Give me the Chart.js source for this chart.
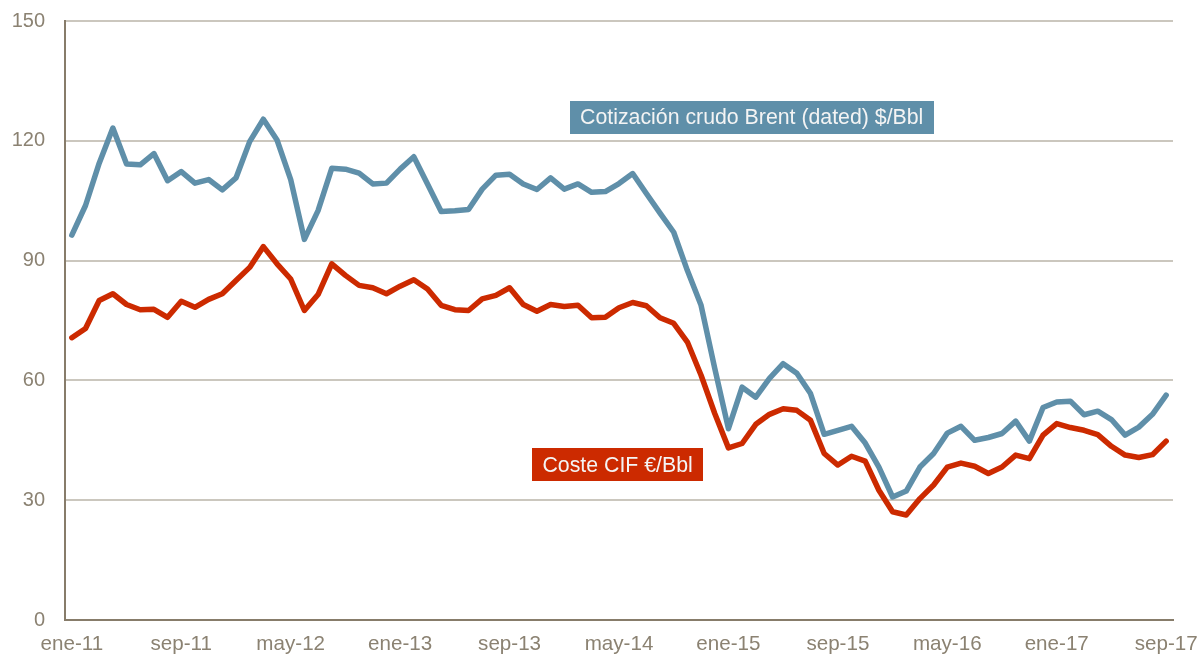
<!DOCTYPE html>
<html>
<head>
<meta charset="utf-8">
<script src="https://cdn.jsdelivr.net/npm/chart.js@4"></script>
<style>
  html, body { margin: 0; padding: 0; background: #ffffff; }
  #wrap { width: 1200px; height: 655px; }
</style>
</head>
<body>
<div id="wrap"><canvas id="c" width="1200" height="655"></canvas></div>
<script>
// ---- data ----
const monthNames = ["ene","feb","mar","abr","may","jun","jul","ago","sep","oct","nov","dic"];
const years = ["11","12","13","14","15","16","17"];
const lastYearMonths = 9; // data ends sep-17

const brent = [96.4,103.8,114.4,123.2,114.2,114.0,116.8,110.0,112.3,109.4,110.3,107.7,
  110.7,119.8,125.4,120.2,110.3,95.3,102.5,113.1,112.9,111.9,109.2,109.4,
  112.9,116.0,109.2,102.3,102.5,102.8,107.9,111.4,111.6,109.2,107.8,110.7,
  107.9,109.2,107.1,107.3,109.3,111.8,106.8,101.9,97.1,87.5,78.8,63.0,
  47.9,58.3,55.8,60.5,64.2,61.8,56.7,46.5,47.5,48.5,44.3,38.3,
  30.8,32.3,38.3,41.7,46.8,48.5,45.0,45.7,46.7,49.8,44.8,53.2,
  54.6,54.8,51.4,52.3,50.2,46.3,48.3,51.5,56.3];

const cif = [70.7,73.0,80.0,81.7,79.0,77.7,77.8,75.8,79.8,78.3,80.3,81.7,
  85.0,88.3,93.5,89.2,85.4,77.5,81.5,89.2,86.3,83.8,83.2,81.7,
  83.6,85.2,82.9,78.8,77.7,77.5,80.4,81.3,83.2,79.0,77.3,79.0,
  78.5,78.8,75.7,75.8,78.2,79.5,78.7,75.7,74.3,69.6,61.3,51.7,
  43.1,44.2,49.0,51.5,52.9,52.5,50.0,41.7,38.8,41.0,39.8,32.5,
  27.1,26.3,30.4,33.8,38.3,39.3,38.5,36.7,38.3,41.3,40.4,46.3,
  49.2,48.2,47.5,46.4,43.5,41.3,40.7,41.4,44.8];

const yTicks = [0, 30, 60, 90, 120, 150];
const seriesNames = ["Cotización crudo Brent (dated) $/Bbl", "Coste CIF €/Bbl"];
const tickEvery = 8;

// category labels
const categories = [];
years.forEach((y, yi) => {
  const n = (yi === years.length - 1) ? lastYearMonths : 12;
  for (let m = 0; m < n; m++) categories.push(monthNames[m] + "-" + y);
});

// ---- style ----
const BLUE = "#5f8fa9";
const RED = "#cc2a00";
const TICK = "#8b8272";
const AXIS = "#877c6a";
const GRID = "#cbc7be";
const FONT = "'Liberation Sans', Arial, sans-serif";

// label annotations (anchored in data coordinates)
const seriesLabels = [
  { text: seriesNames[0], idx: 49.7, val: 125.9, bg: BLUE },
  { text: seriesNames[1], idx: 39.9, val: 38.9, bg: RED }
];

const labelPlugin = {
  id: "seriesLabels",
  afterDatasetsDraw(chart) {
    const ctx = chart.ctx;
    const xs = chart.scales.x, ys = chart.scales.y;
    ctx.save();
    ctx.font = "21.3px " + FONT;
    ctx.textBaseline = "middle";
    ctx.textAlign = "center";
    seriesLabels.forEach(l => {
      const cx = xs.getPixelForValue(l.idx);
      const cy = ys.getPixelForValue(l.val);
      const w = ctx.measureText(l.text).width + 21;
      const h = 33;
      ctx.fillStyle = l.bg;
      ctx.fillRect(Math.round(cx - w / 2), Math.round(cy - h / 2), Math.round(w), h);
      ctx.fillStyle = "#f4f4f4";
      ctx.fillText(l.text, cx, cy + 1);
    });
    ctx.restore();
  }
};

new Chart(document.getElementById("c"), {
  type: "line",
  data: {
    labels: categories,
    datasets: [
      { label: seriesNames[0], data: brent, borderColor: BLUE, backgroundColor: BLUE,
        borderWidth: 5.5, pointRadius: 0, tension: 0, borderJoinStyle: "round", borderCapStyle: "round" },
      { label: seriesNames[1], data: cif, borderColor: RED, backgroundColor: RED,
        borderWidth: 5.5, pointRadius: 0, tension: 0, borderJoinStyle: "round", borderCapStyle: "round" }
    ]
  },
  options: {
    responsive: false,
    animation: false,
    devicePixelRatio: 1,
    layout: { padding: { left: 0, right: 27, top: 21, bottom: 0 } },
    plugins: { legend: { display: false }, tooltip: { enabled: false } },
    scales: {
      x: {
        offset: true,
        grid: { display: false, drawTicks: false },
        border: { display: true, color: AXIS, width: 2 },
        ticks: {
          autoSkip: false, maxRotation: 0, minRotation: 0, padding: 12,
          color: TICK, font: { family: FONT, size: 20.6 },
          callback: function(v, i) { return i % tickEvery === 0 ? categories[i] : null; }
        },
        afterFit(scale) {
          scale.height = 35;
          scale.paddingLeft = 0; scale.paddingRight = 0;
        }
      },
      y: {
        min: 0, max: 150,
        afterBuildTicks(scale) { scale.ticks = yTicks.map(v => ({ value: v })); },
        grid: {
          drawTicks: false, lineWidth: 2,
          color: ctx => (ctx.tick && ctx.tick.value === 0) ? "rgba(0,0,0,0)" : GRID
        },
        border: { display: true, color: AXIS, width: 2 },
        ticks: { padding: 20, color: TICK, font: { family: FONT, size: 20 } },
        afterFit(scale) {
          scale.width = 65;
          scale.paddingTop = 0; scale.paddingBottom = 0;
        }
      }
    }
  },
  plugins: [labelPlugin]
});
</script>
</body>
</html>
